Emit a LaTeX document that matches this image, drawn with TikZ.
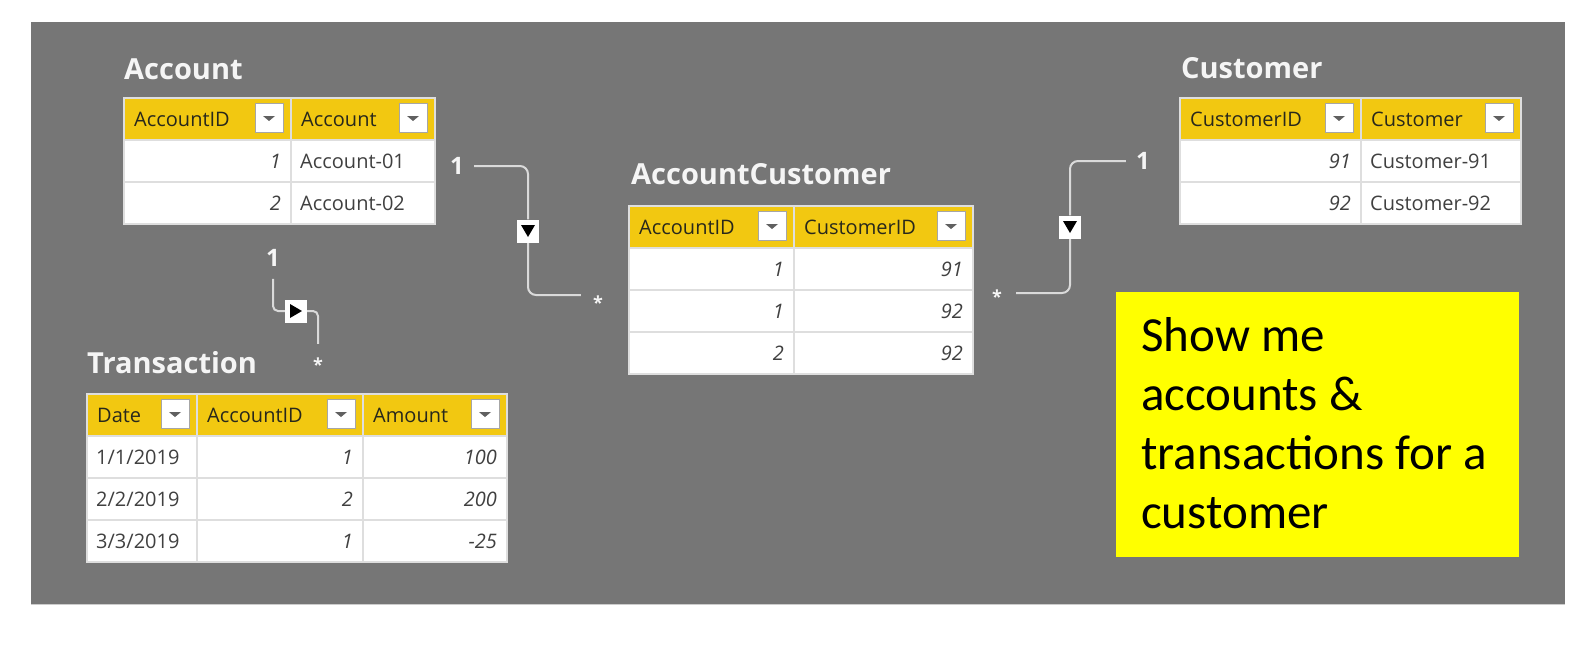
\documentclass[tikz,border=0pt]{standalone}
\usepackage{fontspec}
\setmainfont{Open Sans}
\newfontfamily\calib{Carlito}
\definecolor{bg}{RGB}{118,118,118}
\definecolor{hdr}{RGB}{242,200,17}
\definecolor{grid}{RGB}{222,222,222}
\definecolor{hdrtxt}{RGB}{40,40,28}
\definecolor{bodytxt}{RGB}{64,64,64}
\definecolor{relc}{RGB}{218,218,218}
\definecolor{notey}{RGB}{255,255,0}
\definecolor{ddgray}{RGB}{96,96,96}
\definecolor{titlec}{RGB}{245,245,245}
\tikzset{
  hcell/.style={fill=hdr, draw=grid, line width=1.5pt, anchor=north west, inner sep=0pt, minimum height=42pt},
  bcell/.style={fill=white, draw=grid, line width=1.5pt, anchor=north west, inner sep=0pt, minimum height=42pt},
  htext/.style={anchor=base west, inner sep=0pt, text=hdrtxt, font=\fontsize{20}{24}\selectfont},
  btext/.style={inner sep=0pt, text=bodytxt, font=\fontsize{20}{24}\selectfont},
  ddbox/.style={fill=white, draw=gray!70, line width=0.8pt, minimum width=28pt, minimum height=29pt, inner sep=0pt},
  ttl/.style={anchor=base west, inner sep=0pt, text=titlec, font=\fontsize{29}{34}\selectfont\bfseries},
  onelbl/.style={inner sep=0pt, text=titlec, font=\fontsize{24}{28}\selectfont\bfseries},
  starlbl/.style={inner sep=0pt, text=titlec, font=\fontsize{18}{22}\selectfont\bfseries},
  relline/.style={draw=relc, line width=2pt, rounded corners=8pt},
  relbox/.style={fill=white, minimum width=22pt, minimum height=23pt, inner sep=0pt},
  notebox/.style={fill=notey, anchor=north west, minimum width=403pt, minimum height=265pt, inner sep=0pt},
  notetext/.style={anchor=base west, inner sep=0pt, align=left, text=black, font=\calib\fontsize{49}{59}\selectfont}
}
% header cell: name, x, y, width, label
\newcommand\hc[5]{%
  \node[hcell, minimum width=#4pt] (#1) at (#2,#3) {};
  \node[htext] (#1-t) at (#2+11,#3+29) {#5};
  \node[ddbox] (#1-dd) at (#2+#4-21,#3+21) {};
  \fill[ddgray] ([shift={(-6,-2)}]#1-dd.center) -- ++(12,0) -- ++(-6,5) -- cycle;
}
% body cell, right aligned italic
\newcommand\bcr[5]{%
  \node[bcell, minimum width=#4pt] (#1) at (#2,#3) {};
  \node[btext, anchor=base east] (#1-t) at (#2+#4-9,#3+29) {\itshape #5};
}
% body cell, left aligned
\newcommand\bcl[5]{%
  \node[bcell, minimum width=#4pt] (#1) at (#2,#3) {};
  \node[btext, anchor=base west] (#1-t) at (#2+10,#3+29) {#5};
}
\begin{document}
\begin{tikzpicture}[x=1pt,y=-1pt]
\useasboundingbox (0,0) rectangle (1581,645);
\fill[white] (0,0) rectangle (1581,645);
\fill[bg] (31,22) rectangle (1565,604);
\draw[gray!40, line width=1pt] (31,604.5) -- (1565,604.5);

% ---- Account ----
\node[ttl] (t-acc) at (124,79) {Account};
\hc{acc-h1}{123}{97}{167}{AccountID}
\hc{acc-h2}{290}{97}{144}{Account}
\bcr{acc-11}{123}{139}{167}{1}
\bcl{acc-12}{290}{139}{144}{Account-01}
\bcr{acc-21}{123}{181}{167}{2}
\bcl{acc-22}{290}{181}{144}{Account-02}

% ---- Customer ----
\node[ttl] (t-cus) at (1181,78) {Customer};
\hc{cus-h1}{1179}{97}{181}{CustomerID}
\hc{cus-h2}{1360}{97}{160}{Customer}
\bcr{cus-11}{1179}{139}{181}{91}
\bcl{cus-12}{1360}{139}{160}{Customer-91}
\bcr{cus-21}{1179}{181}{181}{92}
\bcl{cus-22}{1360}{181}{160}{Customer-92}

% ---- AccountCustomer ----
\node[ttl] (t-ac) at (631,184) {AccountCustomer};
\hc{ac-h1}{628}{205}{165}{AccountID}
\hc{ac-h2}{793}{205}{179}{CustomerID}
\bcr{ac-11}{628}{247}{165}{1}
\bcr{ac-12}{793}{247}{179}{91}
\bcr{ac-21}{628}{289}{165}{1}
\bcr{ac-22}{793}{289}{179}{92}
\bcr{ac-31}{628}{331}{165}{2}
\bcr{ac-32}{793}{331}{179}{92}

% ---- Transaction ----
\node[ttl] (t-tr) at (87,373) {Transaction};
\hc{tr-h1}{86}{393}{110}{Date}
\hc{tr-h2}{196}{393}{166}{AccountID}
\hc{tr-h3}{362}{393}{144}{Amount}
\bcl{tr-11}{86}{435}{110}{1/1/2019}
\bcr{tr-12}{196}{435}{166}{1}
\bcr{tr-13}{362}{435}{144}{100}
\bcl{tr-21}{86}{477}{110}{2/2/2019}
\bcr{tr-22}{196}{477}{166}{2}
\bcr{tr-23}{362}{477}{144}{200}
\bcl{tr-31}{86}{519}{110}{3/3/2019}
\bcr{tr-32}{196}{519}{166}{1}
\bcr{tr-33}{362}{519}{144}{-25}

% ---- relationship Account -> AccountCustomer ----
\node[onelbl] (one-a) at (457,166) {1};
\node[starlbl] (star-a) at (598,303) {*};
\node[relbox] (box-a) at (528,231) {};
\draw[relline] ([xshift=10pt]one-a.east) -| (box-a.north);
\draw[relline] (box-a.south) |- ([xshift=-12pt]star-a.west |- 0,295);
\node[relbox] at (box-a) {};
\fill[black] ([shift={(-7,-6)}]box-a.center) -- ++(14,0) -- ++(-7,12) -- cycle;

% ---- relationship AccountCustomer -> Customer ----
\node[onelbl] (one-b) at (1143,161) {1};
\node[starlbl] (star-b) at (997,297) {*};
\node[relbox] (box-b) at (1070,227) {};
\draw[relline] ([xshift=-10pt]one-b.west) -| (box-b.north);
\draw[relline] (box-b.south) |- ([xshift=14pt]star-b.east |- 0,293);
\node[relbox] at (box-b) {};
\fill[black] ([shift={(-7,-6)}]box-b.center) -- ++(14,0) -- ++(-7,12) -- cycle;

% ---- relationship Account -> Transaction ----
\node[onelbl] (one-c) at (273,258) {1};
\node[starlbl] (star-c) at (318,365) {*};
\node[relbox] (box-c) at (296,311) {};
\draw[relline, rounded corners=5pt] ([shift={(0,12)}]one-c.south) |- (box-c.west);
\draw[relline, rounded corners=5pt] (box-c.east) -| ([shift={(0,-14)}]star-c.north);
\node[relbox] at (box-c) {};
\fill[black] ([shift={(-6,-7)}]box-c.center) -- ++(0,14) -- ++(12,-7) -- cycle;

% ---- note ----
\node[notebox] (note) at (1116,292) {};
\node[notetext] (note-t) at (1141,528) {Show me\\accounts \&\\transactions for a\\customer};
\end{tikzpicture}
\end{document}
